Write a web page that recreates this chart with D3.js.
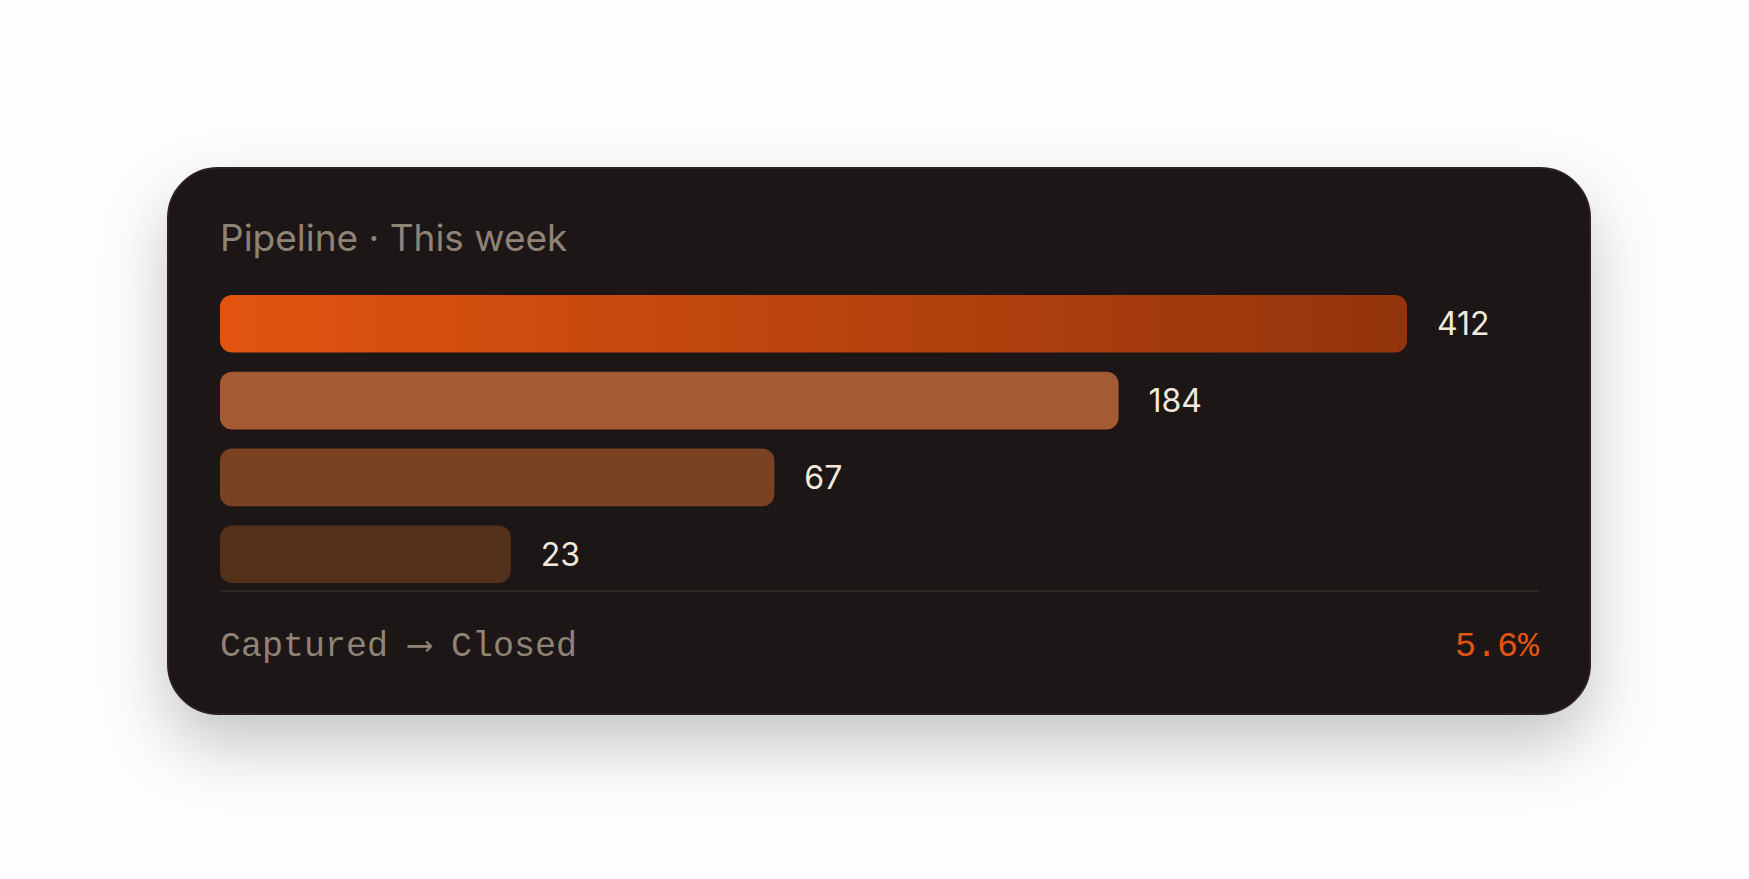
<!DOCTYPE html>
<html>
<head>
<meta charset="utf-8">
<script src="https://cdn.jsdelivr.net/npm/d3@7"></script>
<style>
  html, body { margin: 0; background: #fdfdfd; }
  svg { display: block; }
</style>
</head>
<body>
<div id="chart"></div>
<script>
const stages = ["Captured", "Qualified", "Proposal", "Closed"];
const counts = [412, 184, 67, 23];
// displayed bar length as share of the widest bar
const barShare = [100, 75.7, 46.7, 24.5];
const barColors = ["url(#lead)", "#a45a33", "#7a4223", "#52301a"];
const title = "Pipeline · This week";
const footLeft = "Captured ⟶ Closed";
const footRight = "5.6%";

const W = 1749, H = 879;
const card = {x: 168, y: 168, w: 1422, h: 546, r: 50};
const inner = {left: 220, right: 1539};

const svg = d3.select("#chart").append("svg").attr("width", W).attr("height", H);
const defs = svg.append("defs");

const shadow = defs.append("filter").attr("id", "shadow")
    .attr("x", "-20%").attr("y", "-30%").attr("width", "140%").attr("height", "170%");
shadow.append("feDropShadow").attr("dx", 0).attr("dy", 30).attr("stdDeviation", 32)
    .attr("flood-color", "#000").attr("flood-opacity", 0.22);

const grad = defs.append("linearGradient").attr("id", "lead");
grad.append("stop").attr("offset", "0%").attr("stop-color", "#e2540f");
grad.append("stop").attr("offset", "100%").attr("stop-color", "#93340c");

svg.append("rect")
    .attr("x", card.x).attr("y", card.y).attr("width", card.w).attr("height", card.h)
    .attr("rx", card.r).attr("fill", "#1a1512")
    .attr("stroke", "#2b2420").attr("stroke-width", 2)
    .attr("filter", "url(#shadow)");

svg.append("text").attr("x", inner.left).attr("y", 251)
    .attr("font-family", "Inter, 'Noto Sans', sans-serif").attr("font-size", 37)
    .attr("fill", "#8f8376").text(title);

const x = d3.scaleLinear().domain([0, 100]).range([0, 1187]);
const y = d3.scaleBand().domain(stages).range([295, 583]).paddingInner(0.25).paddingOuter(0);

const rows = svg.append("g").selectAll("g").data(stages).join("g");
rows.append("rect")
    .attr("x", inner.left).attr("y", d => y(d))
    .attr("width", (d, i) => x(barShare[i])).attr("height", y.bandwidth())
    .attr("rx", 12).attr("fill", (d, i) => barColors[i]);
rows.append("text")
    .attr("x", (d, i) => inner.left + x(barShare[i]) + 30)
    .attr("y", d => y(d) + y.bandwidth() / 2)
    .attr("dy", "0.36em")
    .attr("font-family", "Inter, 'Noto Sans', sans-serif").attr("font-size", 32)
    .attr("fill", "#f2e9de").text((d, i) => counts[i]);

svg.append("line").attr("x1", inner.left).attr("x2", inner.right)
    .attr("y1", 591).attr("y2", 591).attr("stroke", "#2c2622").attr("stroke-width", 2);

const mono = "'Liberation Mono', 'DejaVu Sans Mono', monospace";
svg.append("text").attr("x", inner.left).attr("y", 656)
    .attr("font-family", mono).attr("font-size", 35).attr("fill", "#8f8376").text(footLeft);
svg.append("text").attr("x", inner.right).attr("y", 656).attr("text-anchor", "end")
    .attr("font-family", mono).attr("font-size", 35).attr("fill", "#e2540f").text(footRight);
</script>
</body>
</html>
